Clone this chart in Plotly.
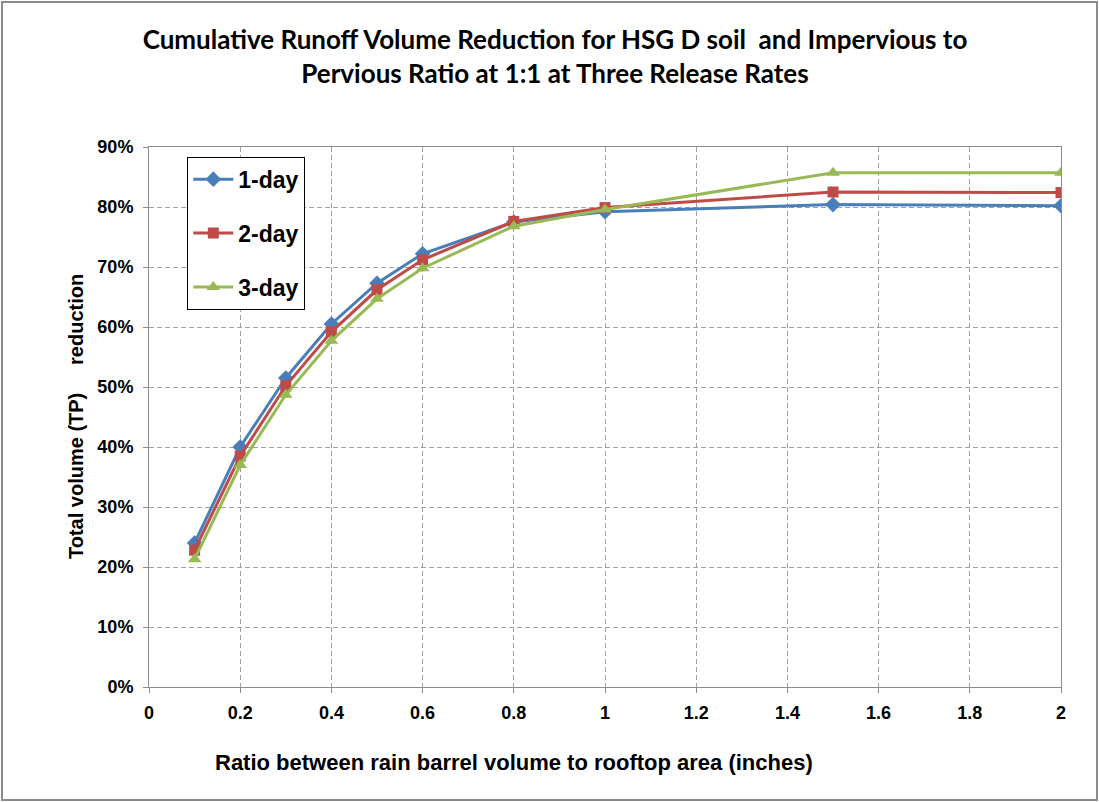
import plotly.graph_objects as go

# ratio of rain barrel volume to rooftop area (inches)
ratio = [0.1, 0.2, 0.3, 0.4, 0.5, 0.6, 0.8, 1.0, 1.5, 2.0]

# cumulative volume reduction (fraction)
one_day = [0.240, 0.400, 0.515, 0.605, 0.673, 0.722, 0.775, 0.792, 0.804, 0.802]
two_day = [0.228, 0.385, 0.502, 0.592, 0.662, 0.712, 0.776, 0.799, 0.825, 0.824]
three_day = [0.213, 0.370, 0.487, 0.577, 0.647, 0.698, 0.768, 0.796, 0.857, 0.857]

series = [
    ("1-day", one_day, "#4A7EBB", "diamond", 12),
    ("2-day", two_day, "#BE4B48", "square", 11),
    ("3-day", three_day, "#98B954", "triangle-up", 12),
]

TICK_FONT = "Liberation Sans Narrow, Liberation Sans, Arial"

fig = go.Figure()
for i, (name, vals, color, symbol, size) in enumerate(series):
    fig.add_trace(go.Scatter(
        x=ratio, y=vals, name=name, mode="lines+markers",
        line=dict(color=color, width=3),
        marker=dict(symbol=symbol, size=size, color=color),
        legendgroup=f"g{i}",
    ))

fig.update_layout(
    width=1099, height=802,
    margin=dict(l=149, r=38, t=147, b=115),
    paper_bgcolor="white", plot_bgcolor="white",
    font=dict(family=TICK_FONT, color="black"),
    title=dict(
        text="Cumulative Runoff Volume Reduction for HSG D soil  and Impervious to<br>Pervious Ratio at 1:1 at Three Release Rates",
        x=0.505, xanchor="center", y=0.939, yanchor="middle",
        font=dict(family="Lato, Open Sans, sans-serif", size=26, color="black", weight="bold"),
    ),
    legend=dict(
        x=0.042, y=0.982, xanchor="left", yanchor="top",
        bgcolor="white", bordercolor="black", borderwidth=1,
        font=dict(size=23, weight="bold", family="Liberation Sans, Arial"),
        tracegroupgap=21, itemwidth=40,
    ),
    xaxis=dict(
        range=[0, 2], tick0=0, dtick=0.2,
        showgrid=True, gridcolor="#a0a0a0", griddash="5px,3px", gridwidth=1,
        showline=True, linecolor="#8c8c8c", linewidth=1, mirror=True,
        ticks="outside", ticklen=5, tickcolor="#8c8c8c",
        tickfont=dict(size=18, weight="bold"), ticklabelstandoff=4,
        zeroline=False,
    ),
    yaxis=dict(
        range=[0, 0.9], tick0=0, dtick=0.1, tickformat=".0%",
        showgrid=True, gridcolor="#a0a0a0", griddash="5px,3px", gridwidth=1,
        showline=True, linecolor="#8c8c8c", linewidth=1, mirror=True,
        ticks="outside", ticklen=5, tickcolor="#8c8c8c",
        tickfont=dict(size=18, weight="bold"), ticklabelstandoff=6,
        zeroline=False,
    ),
)

# axis titles, placed like the original
fig.add_annotation(
    text="Ratio between rain barrel volume to rooftop area (inches)",
    xref="paper", yref="paper", x=0.4, y=-0.139, xanchor="center", yanchor="middle",
    showarrow=False, font=dict(size=22, weight="bold"),
)
fig.add_annotation(
    text="Total volume (TP)     reduction",
    xref="paper", yref="paper", x=-0.08, y=0.5, xanchor="center", yanchor="middle",
    textangle=-90, showarrow=False, font=dict(size=20, weight="bold"),
)

# outer frame of the chart
fig.add_shape(
    type="rect", xref="paper", yref="paper",
    x0=-147 / 912, x1=1 + 36 / 912, y0=-113 / 540, y1=1 + 145 / 540,
    line=dict(color="#8c8c8c", width=2),
)

# drop the default page margin so the figure sits at the window corner
fig.write_html("out.html", config={"displayModeBar": False},
               post_script="document.body.style.margin='0px';")
